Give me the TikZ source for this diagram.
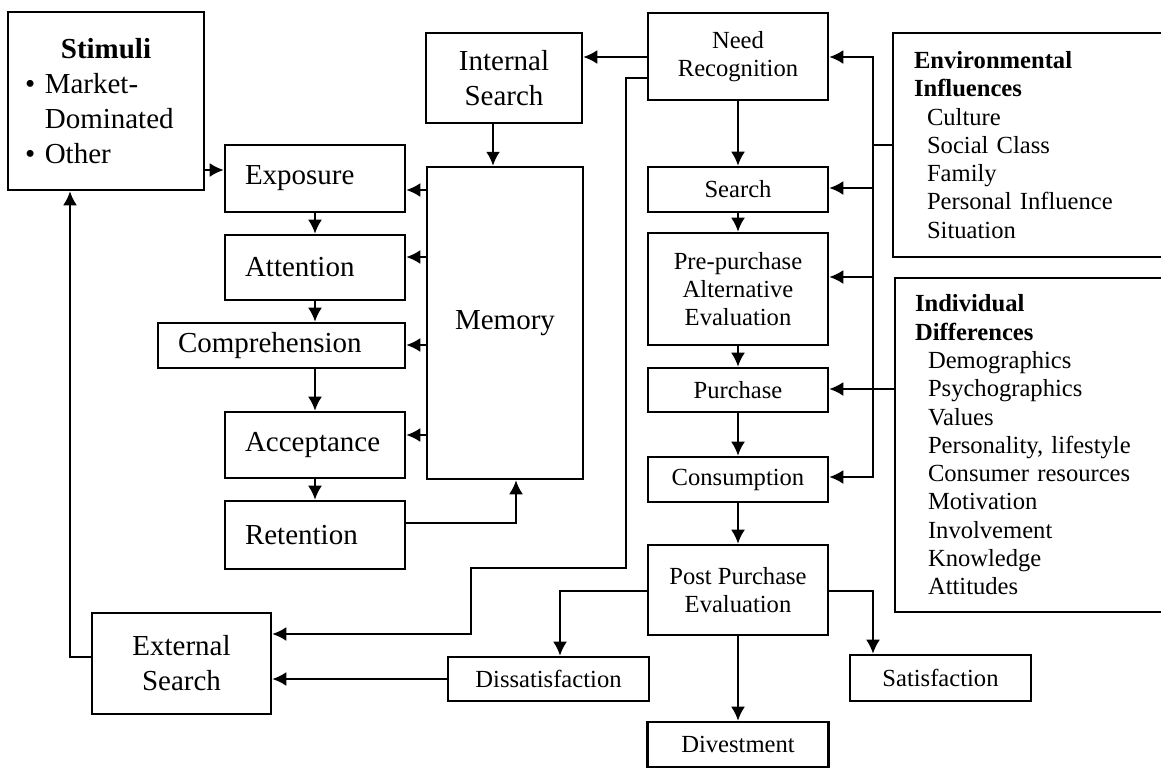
\documentclass[tikz,border=0pt]{standalone}
\usepackage{fontspec}
\setmainfont{Liberation Serif}
\usetikzlibrary{arrows.meta}

\begin{document}
\begin{tikzpicture}[x=0.02cm,y=-0.02cm,line width=1.4pt,
  box/.style={draw,inner sep=0pt,align=center},
  big/.style={font=\fontsize{16.5pt}{19.9pt}\selectfont},
  small/.style={font=\fontsize{14pt}{16.1pt}\selectfont},
  stage/.style={box,big,align=left,inner xsep=0.4cm},
  arr/.style={-{Latex[length=8pt,width=8pt]}}]
  \useasboundingbox (0,0) rectangle (1161,769);
  % left side
  \node[box,big,align=left,text width=3.24cm,inner xsep=0.34cm,minimum height=3.56cm] (stimuli) at (106,101)
    {\makebox[3.24cm]{\bfseries Stimuli}\\\textbullet\ Market-\\\phantom{\textbullet\ }Dominated\\\textbullet\ Other};
  \node[stage,text width=2.8cm,minimum height=1.34cm] (exposure) at (315,178.5) {Exposure};
  \node[stage,text width=2.8cm,minimum height=1.3cm] (attention) at (315,267.5) {Attention};
  \node[stage,text width=4.14cm,minimum height=0.9cm] (comprehension) at (281.5,345.5) {Comprehension};
  \node[stage,text width=2.8cm,minimum height=1.32cm] (acceptance) at (315,445) {Acceptance};
  \node[stage,text width=2.8cm,minimum height=1.36cm] (retention) at (315,535) {Retention};
  \node[box,big,minimum width=3.12cm,minimum height=6.24cm] (memory) at (505,323) {Memory};
  \node[box,big,minimum width=3.12cm,minimum height=1.8cm] (internal) at (504,78) {Internal\\Search};
  \node[box,big,minimum width=3.58cm,minimum height=2.02cm] (external) at (181.5,663.5) {External\\Search};
  % decision process
  \node[box,small,minimum width=3.6cm,minimum height=1.74cm] (need) at (738,56.5) {Need\\Recognition};
  \node[box,small,minimum width=3.6cm,minimum height=0.9cm] (search) at (738,189.5) {Search};
  \node[box,small,minimum width=3.6cm,minimum height=2.24cm] (prepurchase) at (738,289) {Pre-purchase\\Alternative\\Evaluation};
  \node[box,small,minimum width=3.6cm,minimum height=0.88cm] (purchase) at (738,390) {Purchase};
  \node[box,small,minimum width=3.6cm,minimum height=0.9cm] (consumption) at (738,479.5) {Consumption};
  \node[box,small,minimum width=3.6cm,minimum height=1.8cm] (postpurchase) at (738,590) {Post Purchase\\Evaluation};
  \node[box,small,minimum width=4.02cm,minimum height=0.88cm] (dissatisfaction) at (548.5,679) {Dissatisfaction};
  \node[box,small,minimum width=3.62cm,minimum height=0.92cm] (satisfaction) at (940.5,678) {Satisfaction};
  \node[box,small,minimum width=3.62cm,minimum height=0.9cm] (divestment) at (738,744.5) {Divestment};
  % influences
  \node[box,small,align=left,text width=4.56cm,inner xsep=0.42cm,minimum height=4.48cm] (environment) at (1028,145)
    {\textbf{Environmental}\\\textbf{Influences}\\\hspace*{0.26cm}Culture\\\hspace*{0.26cm}Social Class\\
     \hspace*{0.26cm}Family\\\hspace*{0.26cm}Personal Influence\\\hspace*{0.26cm}Situation};
  \node[box,small,align=left,text width=4.56cm,inner xsep=0.4cm,minimum height=6.68cm] (individual) at (1029,445)
    {\textbf{Individual}\\\textbf{Differences}\\\hspace*{0.26cm}Demographics\\\hspace*{0.26cm}Psychographics\\
     \hspace*{0.26cm}Values\\\hspace*{0.26cm}Personality, lifestyle\\\hspace*{0.26cm}Consumer resources\\
     \hspace*{0.26cm}Motivation\\\hspace*{0.26cm}Involvement\\\hspace*{0.26cm}Knowledge\\\hspace*{0.26cm}Attitudes};

  % information processing
  \draw[arr] (stimuli.east |- 0,170) -- (exposure.west |- 0,170);
  \draw[arr] (exposure) -- (attention);
  \draw[arr] (attention) -- (attention |- comprehension.north);
  \draw[arr] (acceptance |- comprehension.south) -- (acceptance);
  \draw[arr] (acceptance) -- (retention);
  \draw[arr] (retention.east |- 0,523) -| (516,0 |- memory.south);
  \foreach \t/\y in {exposure/190,attention/257,comprehension/345,acceptance/435}
    \draw[arr] (memory.west |- 0,\y) -- (\t.east |- 0,\y);
  \draw[arr] (need.west |- 0,57) -- (internal.east |- 0,57);
  \draw[arr] (internal.south -| 493,0) -- (memory.north -| 493,0);

  % decision process
  \foreach \a/\b in {need/search,search/prepurchase,prepurchase/purchase,purchase/consumption,
                     consumption/postpurchase,postpurchase/divestment}
    \draw[arr] (\a) -- (\b);
  \draw[arr] (need.west |- 0,78) -| (626,568) -| (471,634) -- (external.east |- 0,634);
  \draw[arr] (postpurchase.west |- 0,591) -| (560,0 |- dissatisfaction.north);
  \draw[arr] (postpurchase.east |- 0,591) -| (873,0 |- satisfaction.north);
  \draw[arr] (dissatisfaction) -- (external.east |- dissatisfaction);
  \draw[arr] (external.west |- 0,657) -| (70,0 |- stimuli.south);

  % influence bus
  \coordinate (bustop) at (873,57);
  \coordinate (busbottom) at (873,477);
  \draw[line cap=rect] (bustop) -- (busbottom);
  \draw (environment.west |- 0,145) -- (bustop |- 0,145);
  \draw (individual.west |- 0,389) -- (bustop |- 0,389);
  \foreach \t/\y in {need/57,search/188,prepurchase/277,purchase/389,consumption/477}
    \draw[arr] (bustop |- 0,\y) -- (\t.east |- 0,\y);
\end{tikzpicture}
\end{document}
